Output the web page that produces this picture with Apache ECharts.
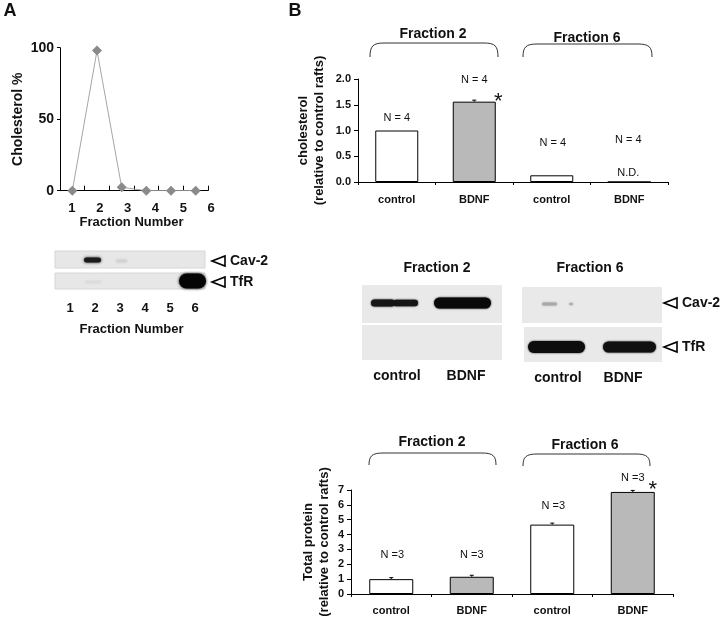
<!DOCTYPE html>
<html><head><meta charset="utf-8">
<script src="https://cdn.jsdelivr.net/npm/echarts@6/dist/echarts.min.js"></script>
<style>html,body{margin:0;padding:0;background:#fff}#c{width:720px;height:619px}</style>
</head><body><div id="c"></div>
<script>
// ---------- data ----------
const fractions = ['1', '2', '3', '4', '5', '6'];
const cholesterolPct = [0, 98, 2.4, 0, 0, 0];
const groups = ['control', 'BDNF', 'control', 'BDNF'];
const cholRel = [1.0, 1.56, 0.13, 0];
const cholErr = [0, 0.01, 0, 0];
const cholN = ['N = 4', 'N = 4', 'N = 4', 'N = 4'];
const cholNotes = ['', '', '', 'N.D.'];
const cholStar = ['', '*', '', ''];
const proteinRel = [1.0, 1.16, 4.67, 6.87];
const proteinErr = [0.03, 0.04, 0.06, 0.05];
const proteinN = ['N =3', 'N =3', 'N =3', 'N =3'];
const proteinStar = ['', '', '', '*'];
const cholTicks = [0, 0.5, 1.0, 1.5, 2.0];
const proteinTicks = [0, 1, 2, 3, 4, 5, 6, 7];
const pctTicks = [0, 50, 100];

// ---------- helpers ----------
const FF = '"Liberation Sans", Arial, Helvetica, sans-serif';
const GRAY = '#b9b9b9';
function txt(text, x, y, size, bold, align) {
  return {type: 'text', z: 10, silent: true, style: {
    text, x, y, font: (bold ? 'bold ' : '') + size + 'px ' + FF, fill: '#111',
    align: align || 'center', verticalAlign: 'middle',
    textAlign: align || 'center', textVerticalAlign: 'middle'}};
}
function rect(x, y, w, h, fill, stroke) {
  return {type: 'rect', z: 1, silent: true, shape: {x, y, width: w, height: h},
    style: {fill, stroke: stroke || null, lineWidth: 1}};
}
function band(x1, x2, cy, h, color, blur) {
  return {type: 'rect', z: 2, silent: true, shape: {x: x1, y: cy - h / 2, width: x2 - x1, height: h, r: h / 2},
    style: {fill: color, shadowBlur: blur, shadowColor: color}};
}
function bracket(x1, x2, yTop, yEnd) {
  const r = 14, st = {fill: null, stroke: '#333', lineWidth: 1};
  return [
    {type: 'bezierCurve', z: 3, silent: true, shape: {x1: x1, y1: yEnd, cpx1: x1, cpy1: yTop + 3, cpx2: x1 + 3, cpy2: yTop, x2: x1 + r, y2: yTop}, style: st},
    {type: 'line', z: 3, silent: true, shape: {x1: x1 + r, y1: yTop, x2: x2 - r, y2: yTop}, style: st},
    {type: 'bezierCurve', z: 3, silent: true, shape: {x1: x2 - r, y1: yTop, cpx1: x2 - 3, cpy1: yTop, cpx2: x2, cpy2: yTop + 3, x2: x2, y2: yEnd}, style: st}
  ];
}
function arrowLabel(x, y, text) {
  return [
    {type: 'polygon', z: 3, silent: true, shape: {points: [[x, y], [x + 13, y - 5], [x + 13, y + 5]]},
      style: {fill: '#fff', stroke: '#000', lineWidth: 1.6}},
    txt(text, x + 18, y, 14, true, 'left')
  ];
}
function valueAxis(grid, min, max, interval, fmt, name, nameGap) {
  return {type: 'value', gridIndex: grid, min, max, interval,
    axisLine: {show: true, lineStyle: {color: '#000', width: 1}},
    axisTick: {show: true, length: 4, lineStyle: {color: '#000'}},
    axisLabel: {margin: 7, fontFamily: FF, fontWeight: 'bold', fontSize: 11, color: '#111', formatter: fmt},
    splitLine: {show: false},
    name, nameLocation: 'middle', nameRotate: 90, nameGap, nameMoveOverlap: false,
    nameTextStyle: {fontFamily: FF, fontWeight: 'bold', fontSize: 13, color: '#111', lineHeight: 16}};
}
function catAxis(grid, data, margin) {
  return {type: 'category', gridIndex: grid, data, boundaryGap: true,
    axisLine: {show: true, lineStyle: {color: '#000', width: 1}},
    axisTick: {show: true, interval: 0, length: 3, lineStyle: {color: '#000'}},
    axisLabel: {interval: 0, margin, fontFamily: FF, fontWeight: 'bold', fontSize: 11, color: '#111'}};
}
function errSeries(xi, yi, vals, errs) {
  return {type: 'custom', xAxisIndex: xi, yAxisIndex: yi, silent: true, z: 4,
    data: vals.map((v, i) => [i, v, errs[i]]),
    renderItem: (params, api) => {
      const e = api.value(2);
      if (!e) return null;
      const p0 = api.coord([api.value(0), api.value(1)]);
      const p1 = api.coord([api.value(0), api.value(1) + e]);
      const top = Math.min(p1[1], p0[1] - 1.5);
      return {type: 'group', children: [
        {type: 'line', shape: {x1: p0[0], y1: p0[1], x2: p0[0], y2: top}, style: {stroke: '#000', lineWidth: 1}},
        {type: 'line', shape: {x1: p0[0] - 2, y1: top, x2: p0[0] + 2, y2: top}, style: {stroke: '#000', lineWidth: 1}}
      ]};
    }};
}
function textSeries(xi, yi, vals, texts, offsets, size) {
  return {type: 'custom', xAxisIndex: xi, yAxisIndex: yi, silent: true, z: 5,
    data: vals.map((v, i) => [i, v]),
    renderItem: (params, api) => {
      const i = params.dataIndex;
      if (!texts[i]) return null;
      const p = api.coord([api.value(0), api.value(1)]);
      return {type: 'text', style: {text: texts[i], x: p[0] + offsets[i][0], y: p[1] + offsets[i][1],
        font: size + 'px ' + FF, fill: '#111', align: 'center', verticalAlign: 'middle',
        textAlign: 'center', textVerticalAlign: 'middle'}};
    }};
}
function barData(vals) {
  return vals.map((v, i) => ({value: v, itemStyle: {color: i % 2 ? GRAY : '#fff', borderColor: '#000', borderWidth: 1}}));
}

// ---------- graphic (blots, headers, brackets) ----------
const g = [];
g.push(txt('A', 10, 11, 18, true));
g.push(txt('B', 295, 11, 18, true));
g.push(txt('Fraction Number', 131.5, 222, 13, true));
g.push(txt('Fraction Number', 131.5, 329, 13, true));
// panel A blot
g.push(rect(55, 251, 150, 17, '#e7e7e7', '#d6d6d6'));
g.push(rect(55, 273, 150, 16, '#e7e7e7', '#d6d6d6'));
g.push(band(84, 101, 260, 5, '#1a1a1a', 3));
g.push(band(116, 127, 261, 3, '#d2d2d2', 3));
g.push(band(85, 101, 282, 3, '#dcdcdc', 3));
g.push(band(179, 206, 281, 15, '#050505', 3));
g.push(...arrowLabel(212, 261, 'Cav-2'));
g.push(...arrowLabel(212, 282, 'TfR'));
// top brackets
g.push(txt('Fraction 2', 433, 34, 14, true));
g.push(txt('Fraction 6', 587, 38, 14, true));
g.push(...bracket(370, 498, 43, 57));
g.push(...bracket(523, 652, 44, 57));
// middle blots
g.push(txt('Fraction 2', 437, 268, 14, true));
g.push(txt('Fraction 6', 590, 268, 14, true));
g.push(rect(362, 285, 140, 38, '#e9e9e9'));
g.push(rect(362, 325, 140, 35, '#e9e9e9'));
g.push(rect(522, 287, 140, 36, '#e9e9e9'));
g.push(rect(524, 327, 138, 35, '#e9e9e9'));
g.push(band(371, 395, 303, 7, '#161616', 2));
g.push(band(393, 418, 303, 6.5, '#161616', 2));
g.push(band(434, 491, 303, 11, '#0a0a0a', 2));
g.push(band(542, 557, 304, 3, '#a9a9a9', 2));
g.push(band(569, 573, 304, 2.5, '#b0b0b0', 2));
g.push(band(528, 585, 347, 12, '#0d0d0d', 2));
g.push(band(603, 656, 347, 11, '#101010', 2));
g.push(...arrowLabel(664, 303, 'Cav-2'));
g.push(...arrowLabel(664, 347, 'TfR'));
g.push(txt('control', 397, 376, 14, true));
g.push(txt('BDNF', 466, 376, 14, true));
g.push(txt('control', 558, 378, 14, true));
g.push(txt('BDNF', 623, 378, 14, true));
// bottom brackets
g.push(txt('Fraction 2', 432, 442, 14, true));
g.push(txt('Fraction 6', 585, 445, 14, true));
g.push(...bracket(369, 496, 453, 465));
g.push(...bracket(523, 650, 454, 466));

// ---------- option ----------
const yA = valueAxis(0, pctTicks[0], pctTicks[pctTicks.length - 1], 50, v => String(v), 'Cholesterol %', 35);
yA.axisLabel = {margin: 6, fontFamily: FF, fontWeight: 'bold', fontSize: 14, color: '#111'};
yA.axisTick = {show: true, length: 3, lineStyle: {color: '#000'}};
yA.nameTextStyle = {fontFamily: FF, fontWeight: 'bold', fontSize: 14, color: '#111'};

const option = {
  animation: false,
  backgroundColor: '#fff',
  textStyle: {fontFamily: FF},
  grid: [
    {left: 60, top: 47.7, width: 148, height: 143, outerBoundsMode: 'none'},
    {left: 58, top: 47.7, width: 167, height: 143, outerBoundsMode: 'none'},
    {left: 57.5, top: 250, width: 150, height: 50, outerBoundsMode: 'none'},
    {left: 358, top: 79, width: 310, height: 103, outerBoundsMode: 'none'},
    {left: 351, top: 490, width: 322, height: 104, outerBoundsMode: 'none'}
  ],
  xAxis: [
    {type: 'category', gridIndex: 0, data: fractions, boundaryGap: true,
      axisLine: {lineStyle: {color: '#000'}},
      axisTick: {show: true, inside: true, length: 5, interval: 0, lineStyle: {color: '#000'}},
      axisLabel: {show: false}},
    {type: 'category', gridIndex: 1, data: fractions, axisLine: {show: false}, axisTick: {show: false},
      axisLabel: {interval: 0, margin: 11, fontFamily: FF, fontWeight: 'bold', fontSize: 13, color: '#111'}},
    {type: 'category', gridIndex: 2, data: fractions, axisLine: {show: false}, axisTick: {show: false},
      axisLabel: {interval: 0, margin: 1.5, fontFamily: FF, fontWeight: 'bold', fontSize: 13, color: '#111'}},
    catAxis(3, groups, 12),
    catAxis(4, groups, 11)
  ],
  yAxis: [
    yA,
    {type: 'value', gridIndex: 1, show: false},
    {type: 'value', gridIndex: 2, show: false},
    valueAxis(3, cholTicks[0], cholTicks[cholTicks.length - 1], 0.5, v => v.toFixed(1), 'cholesterol\n(relative to control rafts)', 31),
    valueAxis(4, proteinTicks[0], proteinTicks[proteinTicks.length - 1], 1, v => String(v), 'Total protein\n(relative to control rafts)', 19)
  ],
  series: [
    {type: 'line', xAxisIndex: 0, yAxisIndex: 0, data: cholesterolPct,
      lineStyle: {color: '#a6a6a6', width: 1}, symbol: 'diamond', symbolSize: 10,
      itemStyle: {color: '#8a8a8a'}, z: 3},
    {type: 'bar', xAxisIndex: 3, yAxisIndex: 3, data: barData(cholRel), barWidth: 43},
    errSeries(3, 3, cholRel, cholErr),
    textSeries(3, 3, cholRel, cholN, [[0, -12.5], [0, -22], [1, -32], [-1, -42]], 11),
    textSeries(3, 3, cholRel, cholNotes, [[0, 0], [0, 0], [0, 0], [-1, -9]], 11),
    textSeries(3, 3, cholRel, cholStar, [[0, 0], [24, 0], [0, 0], [0, 0]], 22),
    {type: 'bar', xAxisIndex: 4, yAxisIndex: 4, data: barData(proteinRel), barWidth: 44},
    errSeries(4, 4, proteinRel, proteinErr),
    textSeries(4, 4, proteinRel, proteinN, [[1, -24], [0, -22], [1, -19], [0, -14]], 11),
    textSeries(4, 4, proteinRel, proteinStar, [[0, 0], [0, 0], [0, 0], [20, -2]], 22)
  ],
  graphic: {elements: g}
};

const chart = echarts.init(document.getElementById('c'), null, {renderer: 'canvas'});
chart.setOption(option);
</script>
</body></html>
